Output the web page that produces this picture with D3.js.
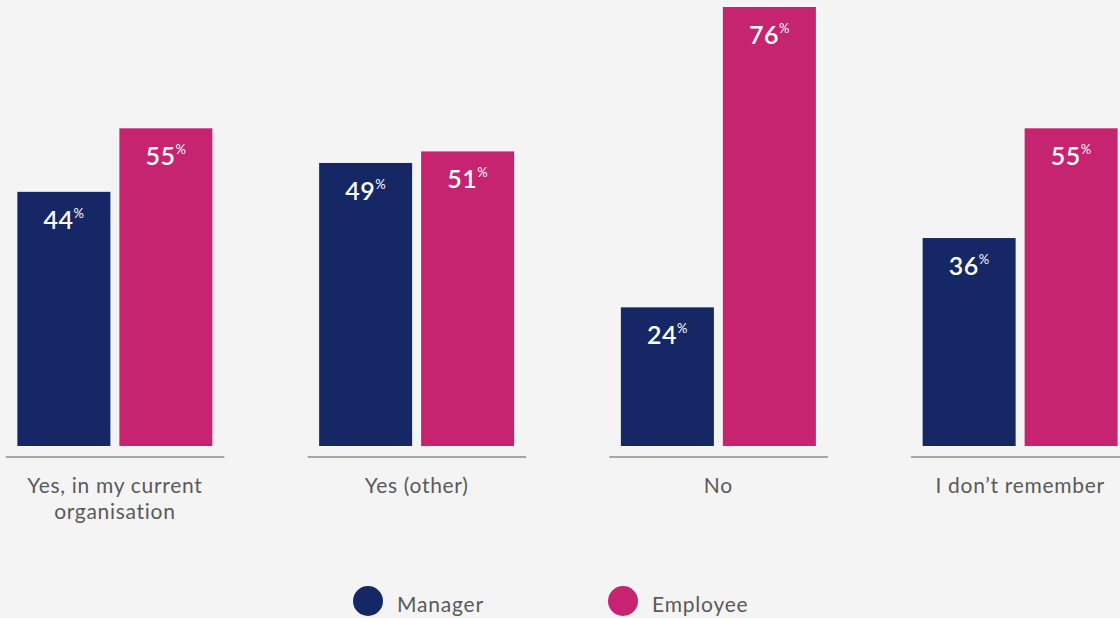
<!DOCTYPE html>
<html>
<head>
<meta charset="utf-8">
<script src="https://cdn.jsdelivr.net/npm/d3@7"></script>
<style>
  html, body { margin: 0; padding: 0; background: #f4f4f4; }
  svg { display: block; font-family: Lato, "Open Sans", sans-serif; }
</style>
</head>
<body>
<svg id="chart" width="1120" height="618"></svg>
<script>
// Survey answers, share of each group (%)
const categories = [["Yes, in my current", "organisation"], ["Yes (other)"], ["No"], ["I don’t remember"]];
const series = ["Manager", "Employee"];
const managerValues = [44, 49, 24, 36];
const employeeValues = [55, 51, 76, 55];
const colors = ["#152865", "#c62370"];

const svg = d3.select("#chart");

const keys = categories.map((c, i) => i);
const valuesBySeries = [managerValues, employeeValues];

const x0 = d3.scaleBand().domain(keys).range([-36, 1171]).paddingInner(0).paddingOuter(0);
const x1 = d3.scaleBand().domain(series).range([0, 195]).paddingInner(9 / 102).paddingOuter(0);
const y = d3.scaleLinear().domain([0, 76]).range([446, 7]);

const groups = svg.selectAll("g.group")
  .data(keys)
  .join("g")
  .attr("class", "group")
  .attr("transform", k => `translate(${x0(k) + x0.bandwidth() / 2 - 97.5},0)`);

// Bars
groups.selectAll("rect")
  .data(k => series.map((s, si) => ({ s, si, v: valuesBySeries[si][k] })))
  .join("rect")
  .attr("x", d => x1(d.s))
  .attr("y", d => y(d.v))
  .attr("width", x1.bandwidth())
  .attr("height", d => y(0) - y(d.v))
  .attr("fill", d => colors[d.si]);

// Value labels with a raised percent sign
groups.selectAll("text.val")
  .data(k => series.map((s, si) => ({ s, si, v: valuesBySeries[si][k] })))
  .join("text")
  .attr("class", "val")
  .attr("x", d => x1(d.s) + x1.bandwidth() / 2)
  .attr("y", d => y(d.v) + 37)
  .attr("text-anchor", "middle")
  .attr("fill", "#ffffff")
  .style("font-size", "25px")
  .style("font-weight", 600)
  .style("letter-spacing", "0.5px")
  .each(function (d) {
    const t = d3.select(this);
    t.append("tspan").text(d.v);
    t.append("tspan").attr("dy", -11).style("font-size", "13px").style("font-weight", 400).text("%");
  });

// Baseline rule per category
groups.append("line")
  .attr("x1", -11.5).attr("x2", 207)
  .attr("y1", 457).attr("y2", 457)
  .attr("stroke", "#8c8c8c").attr("stroke-width", 1.5);

// Category labels
groups.append("text")
  .attr("text-anchor", "middle")
  .attr("fill", "#5a5a5a")
  .style("font-size", "21px")
  .style("letter-spacing", "0.7px")
  .each(function (k) {
    const t = d3.select(this);
    categories[k].forEach((line, li) => {
      t.append("tspan").attr("x", 97.5).attr("y", 493 + li * 26).text(line);
    });
  });

// Legend
const legendX = [368, 623];
const legend = svg.selectAll("g.legend")
  .data(series)
  .join("g")
  .attr("class", "legend")
  .attr("transform", (d, i) => `translate(${legendX[i]},601)`);
legend.append("circle").attr("r", 15).attr("fill", (d, i) => colors[i]);
legend.append("text")
  .attr("x", 29).attr("y", 11)
  .attr("fill", "#5a5a5a")
  .style("font-size", "21px")
  .style("letter-spacing", "0.8px")
  .text(d => d);
</script>
</body>
</html>
